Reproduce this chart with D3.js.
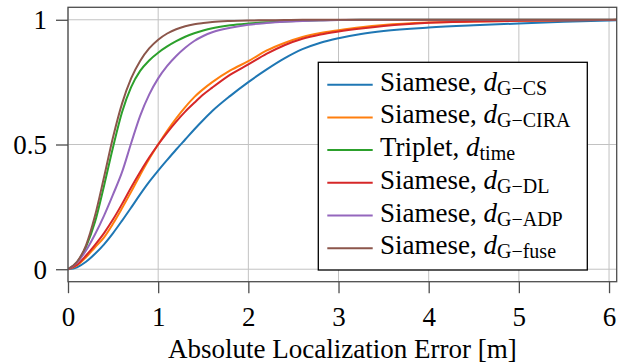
<!DOCTYPE html>
<html>
<head>
<meta charset="utf-8">
<script src="https://cdn.jsdelivr.net/npm/d3@7/dist/d3.min.js"></script>
<style>
  body { margin: 0; background: #fff; }
  svg text { font-family: "Liberation Serif", "Times New Roman", Times, "DejaVu Serif", serif; fill: #000; }
</style>
</head>
<body>
<svg id="chart" width="618" height="362"></svg>
<script>
// valores (CDF do erro absoluto de localização)
const errX = [0, 0.1, 0.2, 0.3, 0.4, 0.5, 0.6, 0.7, 0.8, 0.9, 1.0, 1.1, 1.2, 1.3, 1.4, 1.5, 1.6, 1.8, 2.0, 2.2, 2.4, 2.6, 2.8, 3.0, 3.25, 3.5, 4.0, 4.5, 5.0, 5.5, 6.0, 6.1];

const siameseCS   = [0, 0.008, 0.03, 0.062, 0.1, 0.145, 0.195, 0.247, 0.3, 0.35, 0.395, 0.438, 0.48, 0.52, 0.56, 0.598, 0.634, 0.695, 0.75, 0.8, 0.845, 0.882, 0.908, 0.926, 0.943, 0.955, 0.969, 0.978, 0.985, 0.992, 0.997, 0.998];
const siameseCIRA = [0, 0.015, 0.048, 0.088, 0.128, 0.183, 0.245, 0.31, 0.378, 0.442, 0.5, 0.555, 0.605, 0.65, 0.69, 0.722, 0.75, 0.797, 0.834, 0.876, 0.907, 0.931, 0.947, 0.958, 0.97, 0.979, 0.989, 0.993, 0.996, 0.998, 0.999, 1];
const tripletTime = [0, 0.028, 0.09, 0.19, 0.335, 0.49, 0.63, 0.73, 0.795, 0.837, 0.868, 0.893, 0.914, 0.932, 0.946, 0.957, 0.966, 0.978, 0.985, 0.99, 0.993, 0.996, 0.998, 0.999, 1, 1, 1, 1, 1, 1, 1, 1];
const siameseDL   = [0, 0.018, 0.055, 0.098, 0.145, 0.2, 0.262, 0.328, 0.39, 0.448, 0.5, 0.548, 0.592, 0.632, 0.667, 0.7, 0.728, 0.78, 0.821, 0.863, 0.898, 0.924, 0.941, 0.953, 0.965, 0.975, 0.988, 0.993, 0.996, 0.998, 0.999, 1];
const siameseADP  = [0, 0.027, 0.075, 0.14, 0.215, 0.3, 0.39, 0.505, 0.615, 0.7, 0.765, 0.815, 0.855, 0.888, 0.915, 0.935, 0.95, 0.968, 0.98, 0.987, 0.992, 0.995, 0.997, 0.999, 1, 1, 1, 1, 1, 1, 1, 1];
const siameseFuse = [0, 0.03, 0.096, 0.215, 0.37, 0.53, 0.665, 0.765, 0.835, 0.885, 0.92, 0.945, 0.962, 0.974, 0.982, 0.987, 0.991, 0.995, 0.997, 0.998, 0.999, 1, 1, 1, 1, 1, 1, 1, 1, 1, 1, 1];

const seriesNames = ["Siamese", "Siamese", "Triplet", "Siamese", "Siamese", "Siamese"];
const seriesSubs  = ["G\u2212CS", "G\u2212CIRA", "time", "G\u2212DL", "G\u2212ADP", "G\u2212fuse"];
const seriesVals  = [siameseCS, siameseCIRA, tripletTime, siameseDL, siameseADP, siameseFuse];
const colors = ["#1f77b4", "#ff7f0e", "#2ca02c", "#d62728", "#9467bd", "#8c564b"];

const xTicks = [0, 1, 2, 3, 4, 5, 6];
const yTicks = [0, 0.5, 1];
const yTickLabels = ["0", "0.5", "1"];

// layout
const mLeft = 68, mRight = 616.7, mTop = 7.3, mBottom = 281.7;
const fs = 27;
const serif = '"Liberation Serif", "Times New Roman", Times, "DejaVu Serif", serif';

const svg = d3.select("#chart").attr("font-family", serif);

const x = d3.scaleLinear().domain([0, 6.085]).range([mLeft, mRight]);
const y = d3.scaleLinear().domain([-0.05, 1.05]).range([mBottom, mTop]);

// grade
svg.append("g").selectAll("line")
    .data(xTicks)
    .join("line")
    .attr("x1", d => x(d)).attr("x2", d => x(d))
    .attr("y1", mTop).attr("y2", mBottom)
    .attr("stroke", "#c2c2c2").attr("stroke-width", 1);

svg.append("g").selectAll("line")
    .data(yTicks)
    .join("line")
    .attr("x1", mLeft).attr("x2", mRight)
    .attr("y1", d => y(d)).attr("y2", d => y(d))
    .attr("stroke", "#c2c2c2").attr("stroke-width", 1);

// eixos (ticks para fora)
const xAxis = svg.append("g")
    .attr("transform", `translate(0,${mBottom})`)
    .call(d3.axisBottom(x).tickValues(xTicks).tickFormat(d3.format("d")).tickSize(11.5).tickPadding(14));
const yAxis = svg.append("g")
    .attr("transform", `translate(${mLeft},0)`)
    .call(d3.axisLeft(y).tickValues(yTicks).tickFormat((d, i) => yTickLabels[i]).tickSize(12).tickPadding(9));

[xAxis, yAxis].forEach(a => {
    a.attr("font-family", serif).attr("font-size", fs);
    a.select(".domain").remove();
    a.selectAll(".tick line").attr("stroke", "#4d4d4d").attr("stroke-width", 1.3);
    a.selectAll(".tick text").attr("fill", "#000");
});
xAxis.selectAll(".tick text").attr("dy", "0.71em");
yAxis.selectAll(".tick text").attr("dy", "0.33em");

// curvas
svg.append("defs").append("clipPath").attr("id", "clip")
    .append("rect").attr("x", mLeft).attr("y", mTop).attr("width", mRight - mLeft).attr("height", mBottom - mTop);

const line = d3.line()
    .x(d => x(d[0]))
    .y(d => y(d[1]))
    .curve(d3.curveMonotoneX);

svg.append("g").attr("clip-path", "url(#clip)")
    .selectAll("path")
    .data(seriesVals)
    .join("path")
    .attr("d", vals => line(errX.map((e, i) => [e, vals[i]])))
    .attr("fill", "none")
    .attr("stroke", (d, i) => colors[i])
    .attr("stroke-width", 2);

// moldura
svg.append("rect")
    .attr("x", mLeft).attr("y", mTop)
    .attr("width", mRight - mLeft).attr("height", mBottom - mTop)
    .attr("fill", "none").attr("stroke", "#4d4d4d").attr("stroke-width", 1.3);

// rótulo x
svg.append("text")
    .attr("x", (mLeft + mRight) / 2).attr("y", 357.5)
    .attr("text-anchor", "middle")
    .attr("font-size", fs)
    .text("Absolute Localization Error [m]");

// legenda
const lgX = 318.3, lgY = 62.3, lgW = 269, lgH = 207.7, rowH = 32.7, row0 = 84.7;
svg.append("rect")
    .attr("x", lgX).attr("y", lgY).attr("width", lgW).attr("height", lgH)
    .attr("fill", "#fff").attr("stroke", "#000").attr("stroke-width", 1.3);

const rows = svg.append("g").selectAll("g")
    .data(seriesNames)
    .join("g")
    .attr("transform", (d, i) => `translate(0,${row0 + i * rowH})`);

rows.append("line")
    .attr("x1", 327.3).attr("x2", 372.7)
    .attr("stroke", (d, i) => colors[i]).attr("stroke-width", 2);

const lt = rows.append("text")
    .attr("x", 380).attr("y", 6)
    .attr("font-size", fs);
lt.append("tspan").text(d => d + ", ");
lt.append("tspan").attr("font-style", "italic").text("d");
lt.append("tspan").attr("font-size", 20).attr("dy", 4).text((d, i) => seriesSubs[i]);
</script>
</body>
</html>
